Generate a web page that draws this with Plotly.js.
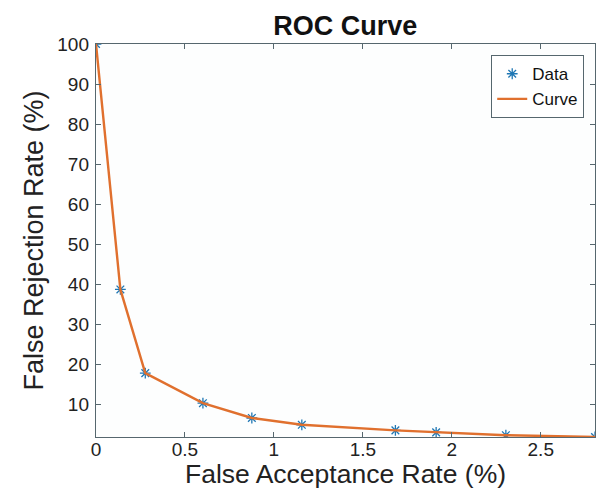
<!DOCTYPE html>
<html>
<head>
<meta charset="utf-8">
<script src="https://cdn.plot.ly/plotly-3.0.1.min.js"></script>
<style>html,body{margin:0;padding:0;background:#fff;}#chart{width:610px;height:489px;}</style>
</head>
<body>
<div id="chart"></div>
<script>
const far = [0, 0.137, 0.277, 0.601, 0.876, 1.157, 1.683, 1.912, 2.304, 2.805];
const frr = [100, 38.7, 17.8, 10.3, 6.6, 4.9, 3.5, 3.0, 2.3, 1.85];
const xTicks = [0, 0.5, 1, 1.5, 2, 2.5];
const xTickText = ['0', '0.5', '1', '1.5', '2', '2.5'];
const yTicks = [10, 20, 30, 40, 50, 60, 70, 80, 90, 100];

const font = 'Liberation Sans, Arial, Helvetica, sans-serif';
const axisColor = '#56676e';

const traces = [
  {x: far, y: frr, mode: 'markers', name: 'Data',
   marker: {symbol: 'asterisk-open', size: 9, color: '#1f77b4', line: {color: '#1f77b4', width: 1.3}}},
  {x: far, y: frr, mode: 'lines', name: 'Curve',
   line: {color: '#e0702e', width: 2.4}}
];

const axBase = {
  showline: true, mirror: 'ticks', linecolor: axisColor, linewidth: 1.2,
  ticks: 'inside', ticklen: 5, tickcolor: axisColor, tickwidth: 1,
  showgrid: false, zeroline: false,
  tickfont: {family: font, size: 19, color: '#222'}
};

const layout = {
  width: 610, height: 489,
  margin: {l: 96, r: 15, t: 44, b: 52},
  paper_bgcolor: '#ffffff', plot_bgcolor: '#fdfefe',
  title: {text: '<b>ROC Curve</b>', font: {family: font, size: 27, color: '#111'}, x: 0.566, xanchor: 'center', y: 0.948, yanchor: 'middle'},
  xaxis: Object.assign({}, axBase, {
    range: [0, 2.805], tickvals: xTicks, ticktext: xTickText, ticklabelstandoff: -5,
    title: {text: 'False Acceptance Rate (%)', font: {family: font, size: 26.5, color: '#222'}, standoff: 1}
  }),
  yaxis: Object.assign({}, axBase, {
    range: [1.85, 100], tickvals: yTicks, ticklabelstandoff: 2,
    title: {text: 'False Rejection Rate (%)', font: {family: font, size: 27, color: '#222'}, standoff: 5}
  }),
  legend: {x: 0.978, y: 0.972, xanchor: 'right', yanchor: 'top',
    bgcolor: '#ffffff', bordercolor: axisColor, borderwidth: 1.2,
    font: {family: font, size: 17, color: '#111'}, tracegroupgap: 0, itemwidth: 30},
  showlegend: true
};

Plotly.newPlot('chart', traces, layout, {displayModeBar: false, staticPlot: true});
</script>
</body>
</html>
